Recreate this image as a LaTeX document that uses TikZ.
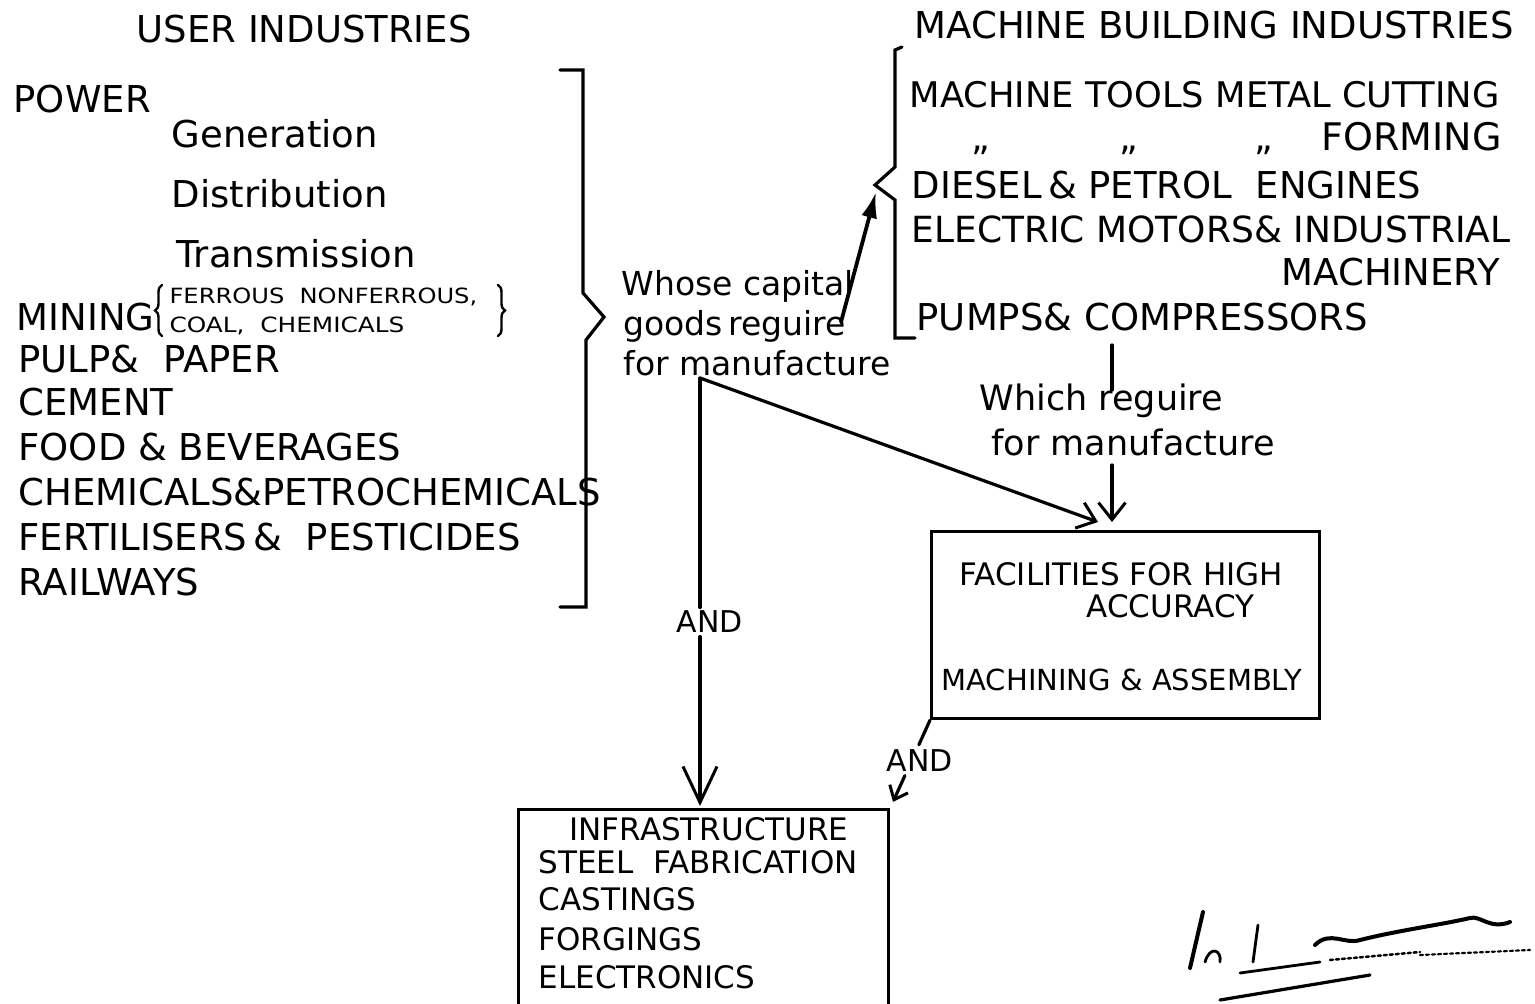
\documentclass[tikz,border=0pt]{standalone}
\usepackage{fontspec}
\setmainfont{DejaVu Sans}
\usetikzlibrary{arrows.meta,decorations.pathreplacing,calc}
\newcommand{\fsz}[1]{\fontsize{#1}{#1}\selectfont}
\begin{document}
\begin{tikzpicture}[x=1pt,y=-1pt,line width=3.2pt,line cap=round,
  txt/.style={anchor=base west,inner sep=0pt,font=\fsz{37}},
  rtxt/.style={txt,font=\fsz{36}},
  mtxt/.style={txt,font=\fsz{33}},
  wtxt/.style={txt,font=\fsz{35}},
  btxt/.style={txt,font=\fsz{31}},
  smtxt/.style={anchor=base west,inner sep=0pt,font=\fsz{21}},
  andst/.style={inner sep=2pt,font=\fsz{30}},
  boxst/.style={draw,line width=3.2pt,inner sep=0pt,anchor=north west},
  vee/.style={-{Straight Barb[length=17pt,width=27pt,line width=3pt]}},
  bigvee/.style={-{Straight Barb[length=36pt,width=34pt,line width=3pt]}},
  smvee/.style={-{Straight Barb[length=12pt,width=20pt,line width=3pt]}},
  solidarr/.style={line width=3.8pt,-{Latex[length=26pt,width=16pt]}},
  sig/.style={line width=4pt}]
\useasboundingbox (0,0) rectangle (1535,1004);

% ---------- left column ----------
\node[txt] (ui) at (135,42) {USER INDUSTRIES};
\node[txt] (power) at (12,112) {POWER};
\node[txt] (gen) at (170,147) {Generation};
\node[txt] (dist) at (170,207) {Distribution};
\node[txt] (trans) at (175,267) {Transmission};
\node[txt] (mining) at (15,330) {MINING};
\node[smtxt] (fer) at (168,303) {\scalebox{1.15}[1]{FERROUS\ \ NONFERROUS,}};
\node[smtxt] (coal) at (168,332) {\scalebox{1.18}[1]{COAL,\ \ CHEMICALS}};
\draw[line width=2.4pt,decorate,decoration={brace,amplitude=7pt}] (162,336) -- (162,285);
\draw[line width=2.4pt,decorate,decoration={brace,amplitude=7pt}] (498,285) -- (498,336);
\node[txt] (pulp) at (17,372) {PULP\&\ \ PAPER};
\node[txt] (cement) at (17,415) {CEMENT};
\node[txt] (food) at (17,460) {FOOD \& BEVERAGES};
\node[txt] (chem) at (17,505) {CHEMICALS\&PETROCHEMICALS};
\node[txt] (fert) at (17,550) {FERTILISERS\,\&\ \ PESTICIDES};
\node[txt] (rail) at (17,595) {RAILWAYS};

% big right bracket
\draw (560,70) -- (583,70) -- (583,293) -- (604,317) -- (586,340) -- (586,607) -- (560,607);

% ---------- middle text ----------
\node[mtxt] (whose) at (620,295) {Whose capital};
\node[mtxt] (goods) at (622,335) {goods\,reguire};
\node[mtxt] (forman) at (622,375) {for manufacture};

% ---------- right column ----------
\node[txt] (mbi) at (913,38) {MACHINE BUILDING INDUSTRIES};
\draw (902,47) -- (895,50) -- (895,167) -- (875,185) -- (895,200) -- (895,338) -- (915,338);
\node[rtxt,font=\fsz{35.3}] (mt) at (908,107) {MACHINE TOOLS METAL CUTTING};
\node[rtxt] (d1) at (970,150) {,,};
\node[rtxt] (d2) at (1118,150) {,,};
\node[rtxt] (d3) at (1253,150) {,,};
\node[rtxt,font=\fsz{38}] (forming) at (1320,150) {FORMING};
\node[txt] (diesel) at (910,198) {DIESEL\,\& PETROL\ \ ENGINES};
\node[rtxt] (elec) at (910,242) {ELECTRIC MOTORS\& INDUSTRIAL};
\node[rtxt,font=\fsz{37}] (mach) at (1280,285) {MACHINERY};
\node[rtxt,font=\fsz{37}] (pumps) at (915,330) {PUMPS\& COMPRESSORS};

\node[wtxt] (which) at (978,410) {Which reguire};
\node[wtxt] (forman2) at (990,455) {for manufacture};

% ---------- boxes ----------
\node[boxst,minimum width=388pt,minimum height=187pt] (fac) at (930,530) {};
\node[btxt] (f1) at (958,585) {FACILITIES FOR HIGH};
\node[btxt] (f2) at (1085,617) {ACCURACY};
\node[btxt,font=\fsz{29}] (f3) at (940,690) {MACHINING \& ASSEMBLY};

\node[boxst,minimum width=370pt,minimum height=240pt] (infra) at (517,808) {};
\node[btxt] (i1) at (568,840) {INFRASTRUCTURE};
\node[btxt] (i2) at (537,873) {STEEL\ \ FABRICATION};
\node[btxt] (i3) at (537,910) {CASTINGS};
\node[btxt] (i4) at (537,950) {FORGINGS};
\node[btxt] (i5) at (537,988) {ELECTRONICS};

% ---------- connectors ----------
\coordinate (gA) at (841,322);
\coordinate (mtip) at (876,192);
\draw[solidarr] (gA) -- (mtip);

\coordinate (c1) at (700,378);
\coordinate (facin) at (1098,522);
\draw[vee] (c1) -- (facin);

\coordinate (p1) at (1112,345);
\coordinate (p2) at (1112,390);
\draw (p1) -- (p2);
\coordinate (p3) at (1112,465);
\coordinate (p4) at (1112,522);
\draw[vee] (p3) -- (p4);

\node[andst] (and1) at (710,622) {AND};
\draw (c1) -- (c1 |- and1.north);
\coordinate (inin) at (700,806);
\draw[bigvee] (c1 |- and1.south) -- (inin);

\node[andst] (and2) at (920,761) {AND};
\draw (fac.south west) -- ($(fac.south west)!0.28!(infra.north east)$);
\draw[smvee] ($(fac.south west)!0.63!(infra.north east)$) -- ($(fac.south west)!0.93!(infra.north east)$);

% ---------- signature ----------
\draw[sig] (1190,968) -- (1203,912);
\draw[line width=2.8pt] (1205,962) .. controls (1210,945) and (1222,950) .. (1220,962);
\draw[line width=2.8pt] (1253,962) -- (1258,925);
\draw[line width=2.8pt] (1240,973) -- (1320,962);
\draw[sig] (1315,945) .. controls (1330,930) and (1345,945) .. (1360,940)
   .. controls (1400,930) and (1440,925) .. (1470,918)
   .. controls (1480,915) and (1490,930) .. (1510,922);
\draw[line width=2.5pt,dashed] (1330,960) -- (1420,952);
\draw[line width=3.2pt] (1220,1000) -- (1370,975);
\draw[line width=2.2pt,dashed] (1420,955) -- (1530,950);
\end{tikzpicture}
\end{document}
